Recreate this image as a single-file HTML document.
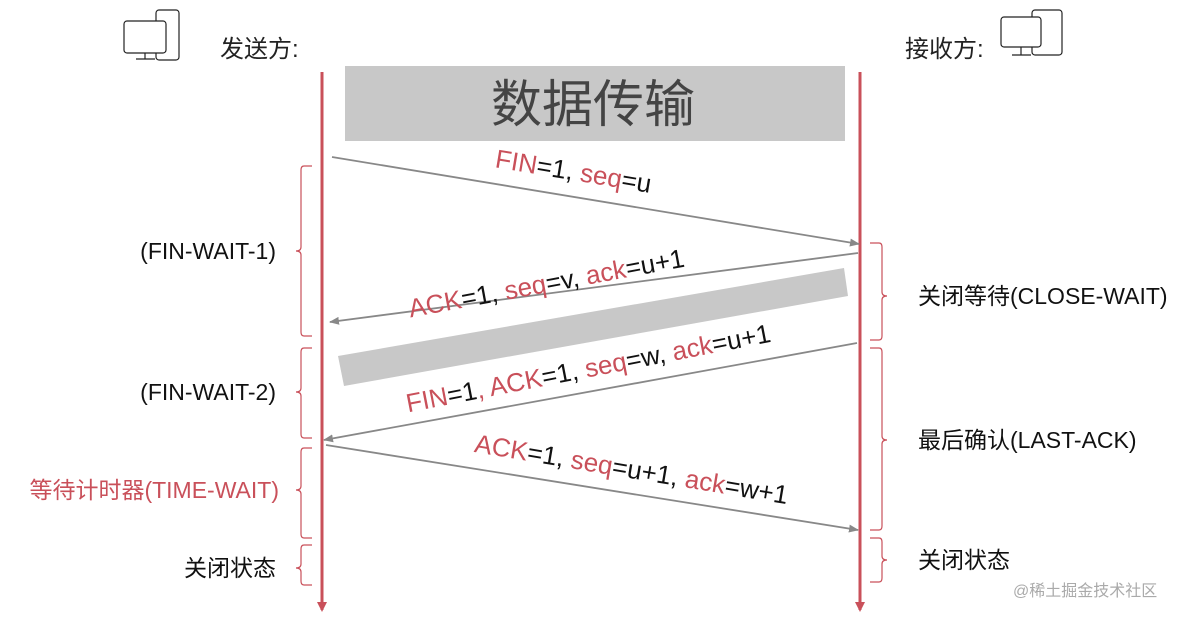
<!DOCTYPE html>
<html><head><meta charset="utf-8"><style>
body{margin:0;background:#fff;}
svg{display:block;font-family:"Liberation Sans","Noto Sans CJK SC",sans-serif;}
</style></head><body>
<svg width="1192" height="618" viewBox="0 0 1192 618">
<defs>
<marker id="ag" markerWidth="10" markerHeight="8" refX="9" refY="4" orient="auto" markerUnits="userSpaceOnUse"><path d="M0,0 L10,4 L0,8 Z" fill="#888"/></marker>
<marker id="ar" markerWidth="10" markerHeight="10" refX="8" refY="5" orient="auto" markerUnits="userSpaceOnUse"><path d="M0,0 L10,5 L0,10 Z" fill="#c9505a"/></marker>
</defs>
<g fill="none" stroke="#222" stroke-width="1.2">
<rect x="156" y="10" width="23" height="50" rx="3"/>
<rect x="124" y="21" width="42" height="32" rx="3" fill="#fff"/>
<line x1="136" y1="59" x2="155" y2="59"/><line x1="145" y1="53" x2="145" y2="59"/>
<rect x="1032" y="10" width="30" height="45" rx="3"/>
<rect x="1001" y="17" width="40" height="30" rx="3" fill="#fff"/>
<line x1="1012" y1="55" x2="1031" y2="55"/><line x1="1021" y1="47" x2="1021" y2="55"/>
</g>
<text x="220" y="57" font-size="24" fill="#222">发送方:</text>
<text x="905" y="57" font-size="24" fill="#222">接收方:</text>
<rect x="345" y="66" width="500" height="75" fill="#c8c8c8"/>
<text x="593" y="122" font-size="51" fill="#444" text-anchor="middle">数据传输</text>
<line x1="322" y1="72" x2="322" y2="610" stroke="#c9505a" stroke-width="3" marker-end="url(#ar)"/>
<line x1="860" y1="72" x2="860" y2="610" stroke="#c9505a" stroke-width="3" marker-end="url(#ar)"/>
<polygon points="338,356 844,268 848,296 344,386" fill="#c8c8c8"/>
<g stroke="#888" stroke-width="1.8">
<line x1="332" y1="157" x2="859" y2="244" marker-end="url(#ag)"/>
<line x1="858" y1="253" x2="330" y2="322" marker-end="url(#ag)"/>
<line x1="857" y1="343" x2="324" y2="440" marker-end="url(#ag)"/>
<line x1="326" y1="445" x2="858" y2="530" marker-end="url(#ag)"/>
</g>
<g font-size="26" fill="#111">
<text transform="translate(572,180) rotate(9.4)" text-anchor="middle"><tspan fill="#c9505a">FIN</tspan>=1, <tspan fill="#c9505a">seq</tspan>=u</text>
<text transform="translate(548,292) rotate(-10.5)" text-anchor="middle"><tspan fill="#c9505a">ACK</tspan>=1, <tspan fill="#c9505a">seq</tspan>=v, <tspan fill="#c9505a">ack</tspan>=u+1</text>
<text transform="translate(590,377) rotate(-11)" text-anchor="middle"><tspan fill="#c9505a">FIN</tspan>=1<tspan fill="#c9505a">, ACK</tspan>=1, <tspan fill="#c9505a">seq</tspan>=w, <tspan fill="#c9505a">ack</tspan>=u+1</text>
<text transform="translate(630,478) rotate(9.5)" text-anchor="middle"><tspan fill="#c9505a">ACK</tspan>=1, <tspan fill="#c9505a">seq</tspan>=u+1, <tspan fill="#c9505a">ack</tspan>=w+1</text>
</g>
<g fill="none" stroke="#c9505a" stroke-width="1.2">
<path d="M312,166 H304 Q301,166 301,170 V247 Q301,251 296,251 Q301,251 301,255 V332 Q301,336 304,336 H312"/>
<path d="M312,348 H304 Q301,348 301,352 V388 Q301,392 296,392 Q301,392 301,396 V434 Q301,438 304,438 H312"/>
<path d="M312,448 H304 Q301,448 301,452 V486 Q301,490 296,490 Q301,490 301,494 V534 Q301,538 304,538 H312"/>
<path d="M312,545 H304 Q301,545 301,549 V564 Q301,568 296,568 Q301,568 301,572 V581 Q301,585 304,585 H312"/>
<path d="M870,243 H879 Q882,243 882,247 V292 Q882,296 887,296 Q882,296 882,300 V336 Q882,340 879,340 H870"/>
<path d="M870,348 H879 Q882,348 882,352 V436 Q882,440 887,440 Q882,440 882,444 V526 Q882,530 879,530 H870"/>
<path d="M870,538 H879 Q882,538 882,542 V556 Q882,560 887,560 Q882,560 882,564 V578 Q882,582 879,582 H870"/>
</g>
<g font-size="23" fill="#111">
<text x="276" y="259" text-anchor="end">(FIN-WAIT-1)</text>
<text x="276" y="400" text-anchor="end">(FIN-WAIT-2)</text>
<text x="279" y="498" text-anchor="end" fill="#c9505a">等待计时器(TIME-WAIT)</text>
<text x="276" y="576" text-anchor="end">关闭状态</text>
<text x="918" y="304">关闭等待(CLOSE-WAIT)</text>
<text x="918" y="448">最后确认(LAST-ACK)</text>
<text x="918" y="568">关闭状态</text>
</g>
<text x="1013" y="596" font-size="16" fill="#aaa">@稀土掘金技术社区</text>
</svg>
</body></html>
